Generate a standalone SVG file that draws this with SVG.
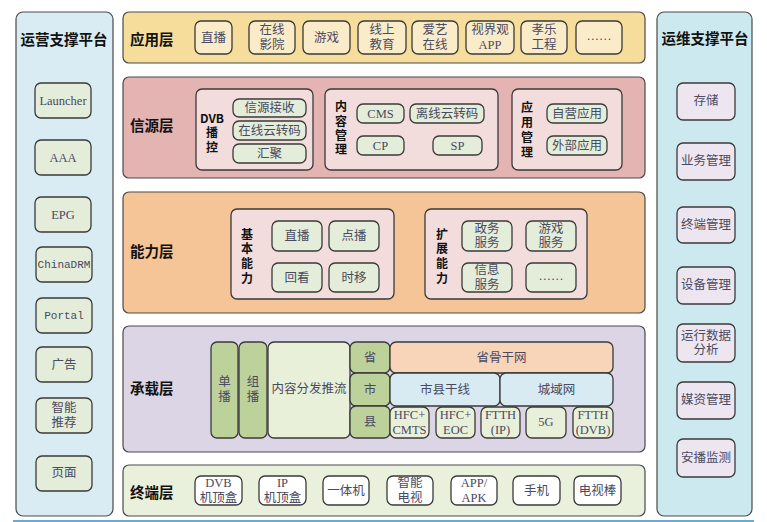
<svg xmlns="http://www.w3.org/2000/svg" width="767" height="522" viewBox="0 0 767 522">
<style>
  .pan{stroke:#4a4a4a;stroke-width:1.2}
  .box{stroke:#3a3a3a;stroke-width:1.3}
  .t{font-family:"Liberation Serif","Noto Sans CJK SC",serif;font-size:12.5px;fill:#4a4a60;text-anchor:middle;dominant-baseline:central}
  .tm{font-family:"Liberation Mono","Noto Sans CJK SC",monospace;font-size:11px;fill:#4a4a60;text-anchor:middle;dominant-baseline:central}
  .h{font-family:"Noto Sans CJK SC","Liberation Sans",sans-serif;font-size:14.5px;font-weight:bold;fill:#111;dominant-baseline:central}
  .v{font-family:"Noto Sans CJK SC","Liberation Sans",sans-serif;font-size:12px;font-weight:bold;fill:#111;text-anchor:middle;dominant-baseline:central}
  .vv{font-family:"Noto Sans CJK SC","Liberation Sans",sans-serif;font-size:12px;font-weight:bold;fill:#111;text-anchor:middle;writing-mode:vertical-rl;glyph-orientation-vertical:0}
  .app{fill:#fbecc9}
  .grn{fill:#e4edda}
  .pink{fill:#f3dcdc}
  .lav{fill:#ede6f0}
  .wht{fill:#ffffff}
  .gg{fill:#bdd19b}
  .pale{fill:#e9f0da}
</style>
<rect x="0" y="0" width="767" height="522" fill="#ffffff"/>
<line x1="13" y1="521" x2="754" y2="521" stroke="#3a8fc0" stroke-width="1.5"/>

<g id="ops-platform">
  <rect class="pan" x="16" y="12" width="97" height="504" rx="7" fill="#d9ebf3"/>
  <text class="h" x="64" y="38" text-anchor="middle">运营支撑平台</text>
  <g id="launcher"><rect class="box grn" x="35" y="83" width="56" height="35" rx="6"/><text class="t" x="63" y="101" font-size="11">Launcher</text></g>
  <g id="aaa"><rect class="box grn" x="35" y="140" width="56" height="35" rx="6"/><text class="t" x="63" y="158" font-size="11">AAA</text></g>
  <g id="epg"><rect class="box grn" x="35" y="197" width="56" height="35" rx="6"/><text class="t" x="63" y="215" font-size="11">EPG</text></g>
  <g id="chinadrm"><rect class="box grn" x="36" y="247" width="56" height="35" rx="6"/><text class="tm" x="64" y="265" font-size="10">ChinaDRM</text></g>
  <g id="portal"><rect class="box grn" x="36" y="298" width="56" height="35" rx="6"/><text class="tm" x="64" y="316">Portal</text></g>
  <g id="ad"><rect class="box grn" x="36" y="347" width="56" height="35" rx="6"/><text class="t" x="64" y="365">广告</text></g>
  <g id="recommend"><rect class="box grn" x="36" y="398" width="56" height="35" rx="6"/><text class="t" x="64" y="408">智能</text><text class="t" x="64" y="423">推荐</text></g>
  <g id="page"><rect class="box grn" x="36" y="456" width="56" height="35" rx="6"/><text class="t" x="64" y="473">页面</text></g>
</g>

<g id="maint-platform">
  <rect class="pan" x="657" y="12" width="95" height="504" rx="7" fill="#cde9f0"/>
  <text class="h" x="705" y="37" text-anchor="middle">运维支撑平台</text>
  <g id="storage"><rect class="box lav" x="677" y="83" width="58" height="37" rx="6"/><text class="t" x="706" y="101">存储</text></g>
  <g id="biz"><rect class="box lav" x="677" y="143" width="58" height="37" rx="6"/><text class="t" x="706" y="161">业务管理</text></g>
  <g id="term-mgmt"><rect class="box lav" x="677" y="207" width="58" height="36" rx="6"/><text class="t" x="706" y="225">终端管理</text></g>
  <g id="dev-mgmt"><rect class="box lav" x="677" y="267" width="58" height="37" rx="6"/><text class="t" x="706" y="285">设备管理</text></g>
  <g id="ops-data"><rect class="box lav" x="677" y="324" width="58" height="38" rx="6"/><text class="t" x="706" y="336">运行数据</text><text class="t" x="706" y="350">分析</text></g>
  <g id="media"><rect class="box lav" x="677" y="382" width="58" height="37" rx="6"/><text class="t" x="706" y="400">媒资管理</text></g>
  <g id="monitor"><rect class="box lav" x="677" y="439" width="58" height="38" rx="6"/><text class="t" x="706" y="458">安播监测</text></g>
</g>

<g id="app-layer">
  <rect class="pan" x="123" y="12" width="522" height="51" rx="6" fill="#f6dd9c"/>
  <text class="h" x="130" y="38">应用层</text>
  <g id="app-live"><rect class="box app" x="195" y="21" width="37" height="33" rx="6"/><text class="t" x="213.5" y="37.5">直播</text></g>
  <g id="app-cinema"><rect class="box app" x="249" y="21" width="46" height="33" rx="6"/><text class="t" x="272" y="30">在线</text><text class="t" x="272" y="45">影院</text></g>
  <g id="app-game"><rect class="box app" x="303" y="21" width="47" height="33" rx="6"/><text class="t" x="326.5" y="37.5">游戏</text></g>
  <g id="app-edu"><rect class="box app" x="358" y="21" width="48" height="33" rx="6"/><text class="t" x="382" y="30">线上</text><text class="t" x="382" y="45">教育</text></g>
  <g id="app-aiyi"><rect class="box app" x="412" y="21" width="46" height="33" rx="6"/><text class="t" x="435" y="30">爱艺</text><text class="t" x="435" y="45">在线</text></g>
  <g id="app-sjg"><rect class="box app" x="466" y="21" width="48" height="33" rx="6"/><text class="t" x="490" y="30">视界观</text><text class="t" x="490" y="45">APP</text></g>
  <g id="app-xiaole"><rect class="box app" x="521" y="21" width="46" height="33" rx="6"/><text class="t" x="544" y="30">孝乐</text><text class="t" x="544" y="45">工程</text></g>
  <g id="app-more"><rect class="box app" x="576" y="21" width="46" height="33" rx="6"/><text class="t" x="599" y="36">……</text></g>
</g>

<g id="source-layer">
  <rect class="pan" x="123" y="77" width="522" height="101" rx="6" fill="#e3b4b2"/>
  <text class="h" x="130" y="124">信源层</text>
  <g id="dvb">
    <rect class="box pink" x="196" y="89" width="117" height="81" rx="6" stroke-width="1"/>
    <text class="v" x="212" y="117">DVB</text>
    <text class="vv" x="212" y="141.5" letter-spacing="3">播控</text>
    <rect class="box grn" x="233" y="99" width="73" height="18" rx="6"/><text class="t" x="269.5" y="108">信源接收</text>
    <rect class="box grn" x="233" y="121" width="73" height="19" rx="6"/><text class="t" x="269.5" y="130.5">在线云转码</text>
    <rect class="box grn" x="233" y="144" width="73" height="19" rx="6"/><text class="t" x="269.5" y="153.5">汇聚</text>
  </g>
  <g id="content-mgmt">
    <rect class="box pink" x="325" y="89" width="173" height="81" rx="6" stroke-width="1"/>
    <text class="vv" x="341" y="129.5" letter-spacing="2.4">内容管理</text>
    <rect class="box grn" x="357" y="104" width="47" height="19" rx="6"/><text class="t" x="380.5" y="113.5" font-size="11.5">CMS</text>
    <rect class="box grn" x="410" y="104" width="74" height="19" rx="6"/><text class="t" x="447" y="113.5">离线云转码</text>
    <rect class="box grn" x="357" y="136" width="47" height="19" rx="6"/><text class="t" x="380.5" y="145.5" font-size="11.5">CP</text>
    <rect class="box grn" x="433" y="136" width="49" height="19" rx="6"/><text class="t" x="457.5" y="145.5" font-size="11.5">SP</text>
  </g>
  <g id="app-mgmt">
    <rect class="box pink" x="512" y="89" width="110" height="81" rx="6" stroke-width="1"/>
    <text class="vv" x="527" y="131" letter-spacing="3">应用管理</text>
    <rect class="box grn" x="547" y="104" width="60" height="19" rx="6"/><text class="t" x="577" y="113.5">自营应用</text>
    <rect class="box grn" x="547" y="136" width="60" height="19" rx="6"/><text class="t" x="577" y="145.5">外部应用</text>
  </g>
</g>

<g id="ability-layer">
  <rect class="pan" x="123" y="192" width="522" height="121" rx="6" fill="#f5c497"/>
  <text class="h" x="130" y="250">能力层</text>
  <g id="basic">
    <rect class="box pink" x="231" y="209" width="163" height="90" rx="6" stroke-width="1"/>
    <text class="vv" x="247" y="257.5" letter-spacing="2.7">基本能力</text>
    <rect class="box grn" x="272" y="221" width="50" height="30" rx="6"/><text class="t" x="297" y="236">直播</text>
    <rect class="box grn" x="329" y="221" width="50" height="30" rx="6"/><text class="t" x="354" y="236">点播</text>
    <rect class="box grn" x="272" y="263" width="50" height="29" rx="6"/><text class="t" x="297" y="277.5">回看</text>
    <rect class="box grn" x="329" y="263" width="50" height="29" rx="6"/><text class="t" x="354" y="277.5">时移</text>
  </g>
  <g id="extended">
    <rect class="box pink" x="425" y="209" width="162" height="90" rx="6" stroke-width="1"/>
    <text class="vv" x="442" y="257.5" letter-spacing="2.7">扩展能力</text>
    <rect class="box grn" x="462" y="221" width="50" height="30" rx="6"/><text class="t" x="487" y="228.5">政务</text><text class="t" x="487" y="243">服务</text>
    <rect class="box grn" x="526" y="221" width="50" height="30" rx="6"/><text class="t" x="551" y="228.5">游戏</text><text class="t" x="551" y="243">服务</text>
    <rect class="box grn" x="462" y="263" width="50" height="29" rx="6"/><text class="t" x="487" y="270">信息</text><text class="t" x="487" y="285">服务</text>
    <rect class="box grn" x="526" y="263" width="50" height="29" rx="6"/><text class="t" x="551" y="276">……</text>
  </g>
</g>

<g id="bearer-layer">
  <rect class="pan" x="123" y="326" width="522" height="126" rx="6" fill="#dcd5e6"/>
  <text class="h" x="130" y="387">承载层</text>
  <g id="unicast"><rect class="box gg" x="211" y="342" width="27" height="96" rx="6"/><text class="t" x="224.5" y="382">单</text><text class="t" x="224.5" y="397">播</text></g>
  <g id="multicast"><rect class="box gg" x="239" y="342" width="28" height="96" rx="6"/><text class="t" x="253" y="382">组</text><text class="t" x="253" y="397">播</text></g>
  <g id="cdn"><rect class="box pale" x="268" y="342" width="82" height="96" rx="6"/><text class="t" x="309" y="389">内容分发推流</text></g>
  <g id="province"><rect class="box gg" x="350" y="342" width="40" height="31" rx="6"/><text class="t" x="370" y="357.5">省</text></g>
  <g id="city"><rect class="box gg" x="350" y="373" width="40" height="33" rx="6"/><text class="t" x="370" y="389.5">市</text></g>
  <g id="county"><rect class="box gg" x="350" y="406" width="40" height="32" rx="6"/><text class="t" x="370" y="422">县</text></g>
  <g id="backbone"><rect class="box" fill="#f8d4b9" x="390" y="342" width="223" height="31" rx="6"/><text class="t" x="501.5" y="357.5">省骨干网</text></g>
  <g id="trunk"><rect class="box" fill="#d8ebf3" x="390" y="373" width="110" height="33" rx="6"/><text class="t" x="445" y="389.5">市县干线</text></g>
  <g id="metro"><rect class="box" fill="#d8ebf3" x="500" y="373" width="113" height="33" rx="6"/><text class="t" x="556.5" y="389.5">城域网</text></g>
  <g id="hfc-cmts"><rect class="box pale" x="390" y="407" width="39" height="31" rx="6"/><text class="t" x="409.5" y="415" font-size="11">HFC+</text><text class="t" x="409.5" y="430" font-size="11">CMTS</text></g>
  <g id="hfc-eoc"><rect class="box pale" x="436" y="407" width="39" height="31" rx="6"/><text class="t" x="455.5" y="415" font-size="11">HFC+</text><text class="t" x="455.5" y="430" font-size="11">EOC</text></g>
  <g id="ftth-ip"><rect class="box pale" x="481" y="407" width="39" height="31" rx="6"/><text class="t" x="500.5" y="415" font-size="11">FTTH</text><text class="t" x="500.5" y="430" font-size="11">(IP)</text></g>
  <g id="g5"><rect class="box pale" x="526" y="407" width="40" height="31" rx="6"/><text class="t" x="546" y="422" font-size="11">5G</text></g>
  <g id="ftth-dvb"><rect class="box pale" x="573" y="407" width="40" height="31" rx="6"/><text class="t" x="593" y="415" font-size="11">FTTH</text><text class="t" x="593" y="430" font-size="11">(DVB)</text></g>
</g>

<g id="terminal-layer">
  <rect class="pan" x="123" y="465" width="522" height="51" rx="6" fill="#e9f0dc"/>
  <text class="h" x="130" y="491">终端层</text>
  <g id="dvb-stb"><rect class="box wht" x="195" y="476" width="47" height="29" rx="6"/><text class="t" x="218.5" y="483" font-size="11.5">DVB</text><text class="t" x="218.5" y="497.5">机顶盒</text></g>
  <g id="ip-stb"><rect class="box wht" x="259" y="476" width="47" height="29" rx="6"/><text class="t" x="282.5" y="483" font-size="11.5">IP</text><text class="t" x="282.5" y="497.5">机顶盒</text></g>
  <g id="aio"><rect class="box wht" x="323" y="476" width="46" height="29" rx="6"/><text class="t" x="346" y="490.5">一体机</text></g>
  <g id="smart-tv"><rect class="box wht" x="387" y="476" width="46" height="29" rx="6"/><text class="t" x="410" y="483">智能</text><text class="t" x="410" y="497.5">电视</text></g>
  <g id="app-apk"><rect class="box wht" x="451" y="476" width="46" height="29" rx="6"/><text class="t" x="474" y="483" font-size="11.5">APP/</text><text class="t" x="474" y="497.5" font-size="11.5">APK</text></g>
  <g id="phone"><rect class="box wht" x="513" y="476" width="47" height="29" rx="6"/><text class="t" x="536.5" y="490.5">手机</text></g>
  <g id="stick"><rect class="box wht" x="574" y="476" width="47" height="29" rx="6"/><text class="t" x="597.5" y="490.5">电视棒</text></g>
</g>

<g id="connectors"></g>
</svg>
